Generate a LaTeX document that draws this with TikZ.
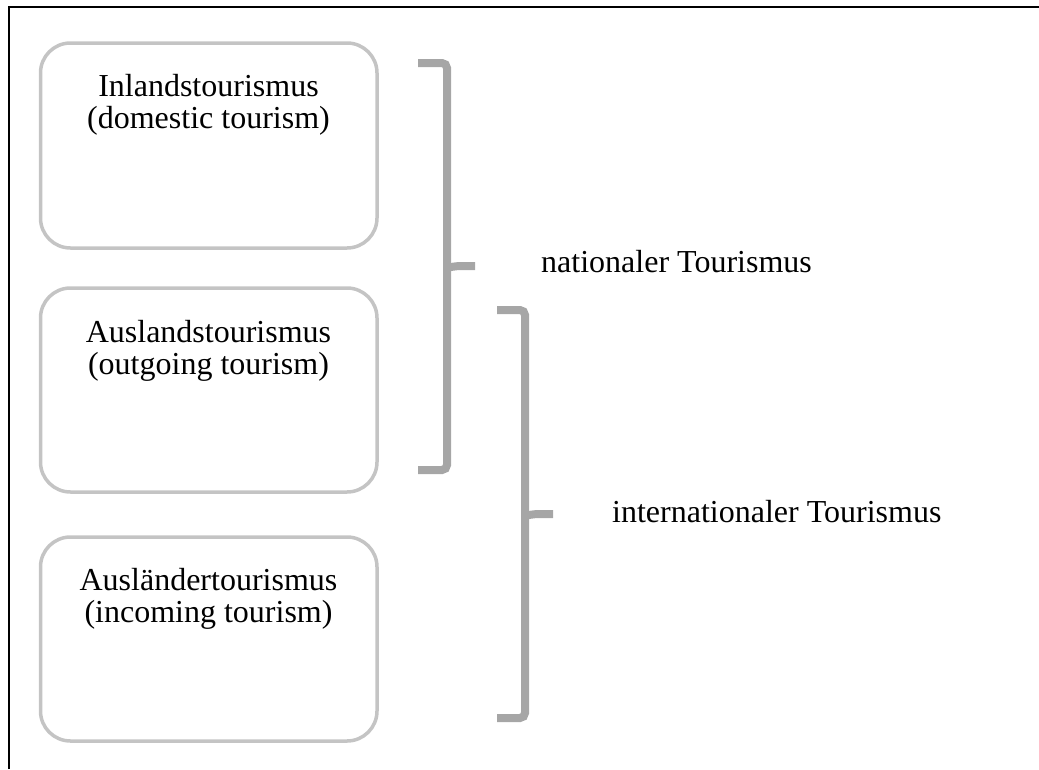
\documentclass[tikz,border=0pt]{standalone}
\usepackage{fontspec}
\setmainfont{Liberation Serif}
\definecolor{boxgray}{HTML}{C4C4C4}
\definecolor{brgray}{HTML}{A6A6A6}
\begin{document}
\begin{tikzpicture}[x=1pt,y=-1pt,
  tbox/.style={draw=boxgray,line width=3.5pt,rounded corners=30pt},
  brace/.style={draw=brgray,line width=8pt,rounded corners=5pt},
  tick/.style={draw=brgray,line width=8pt},
  lbl/.style={font=\fontsize{32}{32}\selectfont,inner sep=0pt,align=center,anchor=base},
  frame/.style={draw=black,line width=2pt}]
\useasboundingbox (0,0) rectangle (1039,769);
\coordinate (f1) at (8.5,769);
\coordinate (f2) at (8.5,6.5);
\coordinate (f3) at (1039,6.5);
\draw[frame] (f1) -- (f2) -- (f3);
% boxes
\draw[tbox] (40.5,43) rectangle (377,248);
\draw[tbox] (40.5,288) rectangle (377,492);
\draw[tbox] (40.5,537) rectangle (377,741);
\node[lbl] (t1) at (208.5,128) {Inlandstourismus\\(domestic tourism)};
\node[lbl] (t2) at (208.5,374) {Auslandstourismus\\(outgoing tourism)};
\node[lbl] (t3) at (208.5,622) {Ausländertourismus\\(incoming tourism)};
% brace 1
\draw[brace] (418,63) -- (447,63) -- (447,470) -- (418,470);
\draw[tick] (447,268) .. controls (455,266) .. (475,266);
\node[lbl,anchor=west] (n1) at (541,262) {nationaler Tourismus};
% brace 2
\draw[brace] (497,310) -- (525,310) -- (525,718) -- (497,718);
\draw[tick] (525,516) .. controls (533,514) .. (553,514);
\node[lbl,anchor=west] (n2) at (612,512) {internationaler Tourismus};
\end{tikzpicture}
\end{document}
